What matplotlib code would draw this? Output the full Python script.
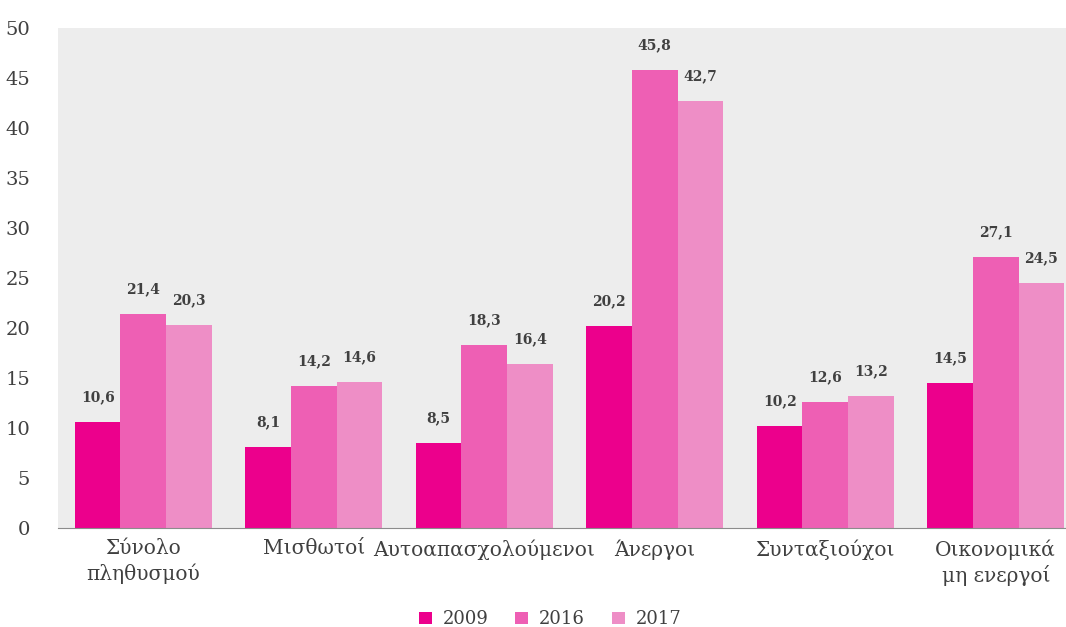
import numpy as np
import matplotlib.pyplot as plt

categories = ["Σύνολο\nπληθυσμού", "Μισθωτοί", "Αυτοαπασχολούμενοι",
              "Άνεργοι", "Συνταξιούχοι", "Οικονομικά\nμη ενεργοί"]
years = ["2009", "2016", "2017"]
v2009 = [10.6, 8.1, 8.5, 20.2, 10.2, 14.5]
v2016 = [21.4, 14.2, 18.3, 45.8, 12.6, 27.1]
v2017 = [20.3, 14.6, 16.4, 42.7, 13.2, 24.5]
colors = ["#EC008C", "#EE5FB4", "#EE8EC6"]

plt.rcParams['font.family'] = ['DejaVu Serif']

fig = plt.figure(figsize=(10.66, 6.27), dpi=100)
ax = fig.add_axes([58/1066, 99/627, 1023/1066, 500/627])
ax.set_facecolor("#EDEDED")

x = np.arange(len(categories))
w = 0.267
for i, (vals, yr) in enumerate(zip([v2009, v2016, v2017], years)):
    bars = ax.bar(x + (i - 1) * w, vals, w, color=colors[i], label=yr)
    for b, v in zip(bars, vals):
        ax.annotate(f"{v:.1f}".replace(".", ","),
                    (b.get_x() + b.get_width() / 2, v),
                    xytext=(0, 13), textcoords="offset points",
                    ha="center", va="bottom", fontsize=10,
                    fontweight="bold", color="#404040")

ax.set_xlim(-0.5, 5.5)
ax.set_ylim(0, 50)
ax.set_yticks(range(0, 51, 5))
ax.set_xticks(x)
ax.set_xticklabels(categories, fontsize=14.5, color="#404040", linespacing=1.3)
ax.tick_params(axis="y", length=0, labelsize=14, labelcolor="#404040", pad=20)
ax.tick_params(axis="x", length=0, pad=8)
for s in ["top", "right", "left"]:
    ax.spines[s].set_visible(False)
ax.spines["bottom"].set_color("#8c8c8c")

fig.legend(loc="lower center", bbox_to_anchor=(0.516, -0.028), ncol=3,
           frameon=False, fontsize=13, handlelength=0.7, handleheight=0.7,
           handletextpad=0.6, columnspacing=1.5, labelcolor="#404040")

fig.savefig("out.png", dpi=100)
